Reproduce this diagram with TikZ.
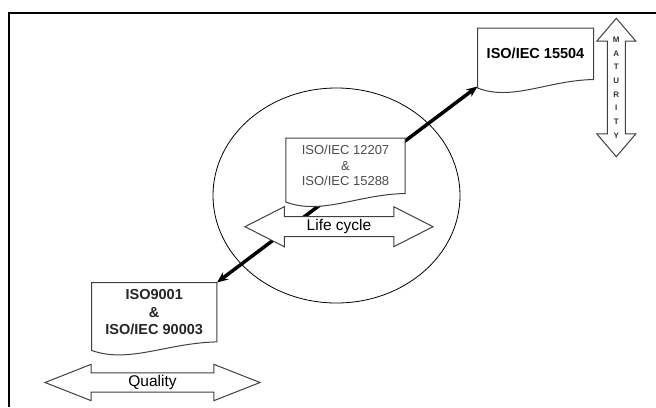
\documentclass[tikz,border=0pt]{standalone}
\usepackage{fontspec}
\setmainfont{Liberation Sans}
\usetikzlibrary{arrows.meta,shapes.arrows,shapes.geometric,calc,backgrounds}

\begin{document}
\begin{tikzpicture}[
  x=1pt, y=1pt,
  doc/.style={inner sep=0pt, align=center},
  docline/.style={draw=black!75, line width=1pt, fill=white},
  twoway/.style={double arrow, draw=black!75, line width=1pt, fill=white, inner xsep=0pt, inner ysep=3pt, text height=10pt, text depth=3pt},
  ring/.style={draw, ellipse, line width=0.8pt, inner sep=0pt},
  link/.style={{Stealth[length=11pt,width=9pt]}-{Stealth[length=11pt,width=9pt]}, line width=3.5pt},
  frame/.style={line width=1.2pt}
]
\useasboundingbox (0,0) rectangle (656,-407);

\node[doc, minimum width=115.6pt, minimum height=51pt, font=\bfseries\fontsize{14.5}{17}\selectfont] (spice) at (535.5,-53.8) {ISO/IEC 15504};
\node[doc, minimum width=119pt, minimum height=55pt, text=black!70, font=\fontsize{13}{15.5}\selectfont] (proc) at (345.5,-165.8) {ISO/IEC 12207\\\&\\ISO/IEC 15288};
\node[doc, minimum width=125pt, minimum height=59pt, text=black!85, font=\bfseries\fontsize{14.5}{17.8}\selectfont] (qms) at (154.2,-312.2) {ISO9001\\\&\\ISO/IEC 90003};

\node[twoway, minimum height=188pt, double arrow head extend=10pt, double arrow tip angle=54, font=\fontsize{15.5}{17}\selectfont] (lifecyc) at (339,-226.7) {Life cycle};
\node[twoway, minimum height=215pt, double arrow head extend=8.5pt, double arrow tip angle=43, inner ysep=2.7pt, font=\fontsize{15.5}{17}\selectfont] (quality) at (152.5,-382.5) {Quality};
\node[double arrow, draw=black!75, line width=1pt, fill=white, rotate=90, inner xsep=0pt, inner ysep=8.5pt, minimum height=138.4pt, double arrow head extend=10.5pt, double arrow tip angle=81] (maturity) at (616.3,-87.5) {};
\node[align=center, inner sep=0pt, text=black!80, font=\bfseries\fontsize{8}{13.7}\selectfont] (matlbl) at (maturity.center) {M\\A\\T\\U\\R\\I\\T\\Y};

\draw[frame] (9,-407) -- (9,-13) -- (656,-13);

\begin{scope}[on background layer]
  \node[ring, minimum width=247pt, minimum height=215pt] (cyc) at (336.5,-195.5) {};
  \draw[link] (qms.north east) -- ([yshift=-7pt]spice.south west);
  \foreach \b in {spice,proc,qms}
    \filldraw[docline] (\b.north west) -- (\b.north east) -- (\b.south east)
      .. controls ($(\b.south east)!0.4!(\b.south west)+(0,-1)$) and ($(\b.south east)!0.7!(\b.south west)+(0,-22)$) .. ($(\b.south west)+(0,-8.5)$) -- cycle;
\end{scope}
\end{tikzpicture}
\end{document}
